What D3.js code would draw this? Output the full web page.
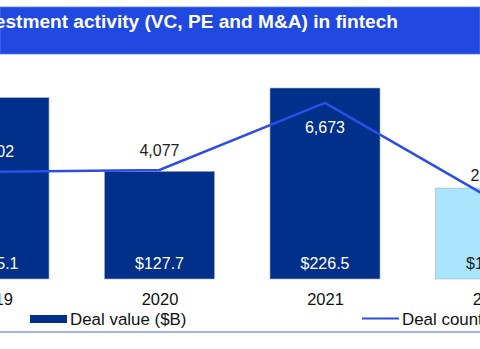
<!DOCTYPE html>
<html><head><meta charset="utf-8">
<script src="https://cdn.jsdelivr.net/npm/d3@7"></script>
<style>body{margin:0;background:#fff;}svg{display:block;font-family:"Liberation Sans",Arial,sans-serif;}</style>
</head><body>
<svg id="c" width="480" height="349"></svg>
<script>
const title = "Total global investment activity (VC, PE and M&A) in fintech";
const years = ["2019", "2020", "2021", "2022"];
const dealValue = [215.1, 127.7, 226.5, 107.8];
const dealCount = [4002, 4077, 6673, 2980];
const valueLabels = ["$215.1", "$127.7", "$226.5", "$107.8"];
const countLabels = ["4,002", "4,077", "6,673", "2,980"];
const barColors = ["#00308a", "#00308a", "#00308a", "#a9e6fd"];
const legendLabels = ["Deal value ($B)", "Deal count"];

const svg = d3.select("#c");
const x = d3.scalePoint().domain(years).range([-6, 490.5]);
const yV = d3.scaleLinear().domain([0, 250]).range([279, 68.2]);
const yC = d3.scaleLinear().domain([0, 8000]).range([275.2, 68.7]);
const bw = 110;

// title banner
svg.append("rect").attr("x", 0).attr("y", 7).attr("width", 480).attr("height", 47)
  .attr("fill", "#1f49e0").attr("stroke", "#5d7ef0").attr("stroke-width", 0.8);
svg.append("text").attr("x", 398).attr("y", 28).attr("text-anchor", "end")
  .attr("fill", "#fff").attr("font-weight", "bold").attr("font-size", 19.1).text(title);

// bars
svg.selectAll("rect.bar").data(years).join("rect").attr("class", "bar")
  .attr("x", d => x(d) - bw / 2).attr("width", bw)
  .attr("y", (d, i) => yV(dealValue[i])).attr("height", (d, i) => yV(0) - yV(dealValue[i]))
  .attr("fill", (d, i) => barColors[i]).attr("stroke", "#9fb0d6").attr("stroke-width", 0.6);

// line
const line = d3.line().x((d, i) => x(years[i])).y(d => yC(d));
svg.append("path").datum(dealCount).attr("d", line).attr("fill", "none")
  .attr("stroke", "#2b4ee6").attr("stroke-width", 2.5);

// value labels
svg.selectAll("text.val").data(years).join("text").attr("class", "val")
  .attr("x", d => x(d)).attr("y", 269).attr("text-anchor", "middle").attr("font-size", 16)
  .attr("fill", (d, i) => i === 3 ? "#222" : "#fff").text((d, i) => valueLabels[i]);

// count labels
const countOff = [-15, -14, 30, -17];
svg.selectAll("text.cnt").data(years).join("text").attr("class", "cnt")
  .attr("x", d => x(d)).attr("y", (d, i) => yC(dealCount[i]) + countOff[i]).attr("text-anchor", "middle").attr("font-size", 16)
  .attr("fill", (d, i) => (i === 0 || i === 2) ? "#fff" : "#222").text((d, i) => countLabels[i]);

// x axis labels
const xAxis = d3.axisBottom(x).tickSize(0).tickPadding(14);
const ax = svg.append("g").attr("transform", "translate(0,279)").call(xAxis);
ax.select(".domain").remove();
ax.selectAll("text").attr("font-size", 16.5).attr("fill", "#111").attr("font-family", "Liberation Sans, Arial, sans-serif");

// legend
svg.append("rect").attr("x", 30).attr("y", 315).attr("width", 37).attr("height", 8).attr("fill", "#00308a");
svg.append("text").attr("x", 70).attr("y", 325).attr("font-size", 16.9).attr("fill", "#111").text(legendLabels[0]);
svg.append("line").attr("x1", 362).attr("x2", 399).attr("y1", 318.5).attr("y2", 318.5).attr("stroke", "#2b4ee6").attr("stroke-width", 2);
svg.append("text").attr("x", 402).attr("y", 325).attr("font-size", 16.9).attr("fill", "#111").text(legendLabels[1]);

// bottom rule
svg.append("line").attr("x1", 0).attr("x2", 480).attr("y1", 332).attr("y2", 332).attr("stroke", "#7f9cf0").attr("stroke-width", 1.5);
</script>
</body></html>
